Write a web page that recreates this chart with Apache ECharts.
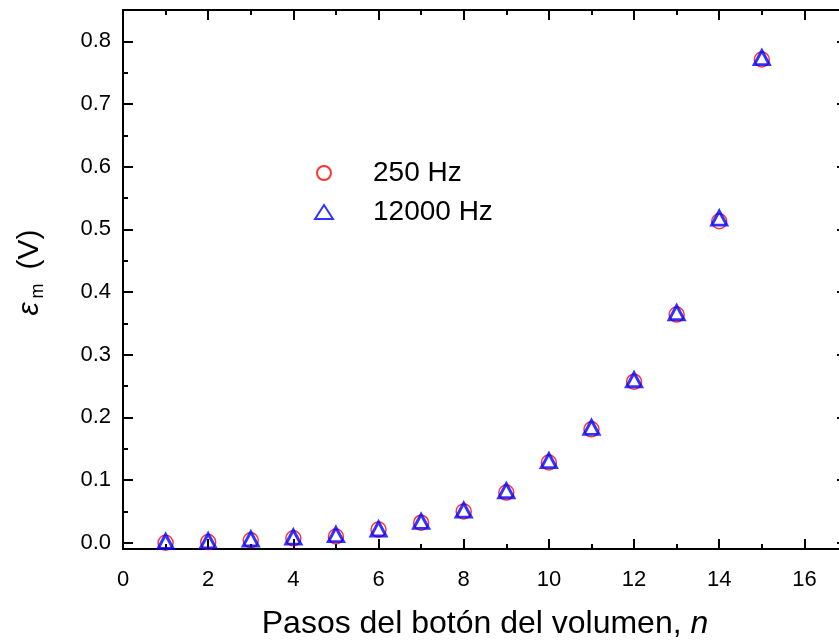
<!DOCTYPE html>
<html>
<head>
<meta charset="utf-8">
<style>
  html, body { margin: 0; padding: 0; background: #fff; }
  #chart { width: 839px; height: 643px; }
</style>
<script src="https://cdn.jsdelivr.net/npm/echarts@6/dist/echarts.min.js"></script>
</head>
<body>
<div id="chart"></div>
<script>
// volume steps n
const steps = [1, 2, 3, 4, 5, 6, 7, 8, 9, 10, 11, 12, 13, 14, 15]
// emf in volts
const emf250 = [0.000, 0.001, 0.004, 0.007, 0.010, 0.021, 0.032, 0.050, 0.080, 0.128, 0.181, 0.257, 0.364, 0.513, 0.771]
const emf12000 = [0.002, 0.003, 0.006, 0.009, 0.013, 0.022, 0.034, 0.052, 0.083, 0.131, 0.184, 0.260, 0.367, 0.518, 0.774]
const seriesNames = ['250 Hz', '12000 Hz']

const font = 'Liberation Sans, Arial, sans-serif'

function pairs(ys) {
  return steps.map((x, i) => [x, ys[i]])
}

// x axis layer: position, tick step, tick length, show line/labels
function xLayer(position, step, len, showLine, showLabel) {
  return {
    type: 'value',
    position: position,
    min: 0,
    max: 17,
    interval: step,
    splitLine: { show: false },
    axisLine: { show: showLine, onZero: false, lineStyle: { color: '#000', width: 2 } },
    axisTick: { show: true, inside: true, length: len, lineStyle: { color: '#000', width: 2 } },
    axisLabel: {
      show: showLabel,
      margin: 20,
      color: '#000',
      fontSize: 22,
      fontFamily: font,
      formatter: v => (v % 2 === 0 && v <= 16 ? String(v) : '')
    }
  }
}

// y axis layer, ticks kept on multiples of step (no interval -> counted from 0)
function yLayer(position, step, len, showLine, showLabel) {
  return {
    type: 'value',
    position: position,
    min: -0.01,
    max: 0.85,
    splitNumber: 8,
    minInterval: step,
    maxInterval: step,
    splitLine: { show: false },
    axisLine: { show: showLine, onZero: false, lineStyle: { color: '#000', width: 2 } },
    axisTick: { show: true, inside: true, length: len, lineStyle: { color: '#000', width: 2 } },
    axisLabel: {
      show: showLabel,
      margin: 12,
      color: '#000',
      fontSize: 22,
      fontFamily: font,
      formatter: v => {
        const r = Math.round(v * 10) / 10
        if (Math.abs(v - r) > 1e-6 || r < 0 || r > 0.8) return ''
        return r.toFixed(1)
      }
    }
  }
}

const chart = echarts.init(document.getElementById('chart'), null, { renderer: 'canvas' })

const xMain = xLayer('bottom', 1, 5, true, false)
xMain.name = 'Pasos del botón del volumen, {i|n}'
xMain.nameLocation = 'middle'
xMain.nameGap = 59
xMain.nameTextStyle = {
  color: '#000',
  fontSize: 32,
  fontFamily: font,
  rich: { i: { fontSize: 32, fontStyle: 'italic', fontFamily: font, color: '#000' } }
}

const yMain = yLayer('left', 0.1, 10, true, true)
yMain.name = '{e|ε}{s|m}{t|(V)}'
yMain.nameLocation = 'middle'
yMain.nameRotate = 90
yMain.nameGap = 76
yMain.nameTextStyle = {
  color: '#000',
  fontFamily: font,
  padding: [0, 0, 0, 14],
  rich: {
    e: { fontSize: 30, fontStyle: 'italic', fontFamily: font, color: '#000', lineHeight: 34, verticalAlign: 'middle' },
    s: { fontSize: 18, fontFamily: font, color: '#000', lineHeight: 34, verticalAlign: 'bottom', padding: [0, 0, 0, 4] },
    t: { fontSize: 30, fontFamily: font, color: '#000', lineHeight: 34, verticalAlign: 'middle', padding: [0, 0, 0, 14] }
  }
}

chart.setOption({
  animation: false,
  backgroundColor: '#fff',
  grid: { left: 123, top: 10, width: 724, height: 539, outerBoundsMode: 'none' },
  legend: {
    orient: 'vertical',
    left: 309,
    top: 153,
    itemWidth: 18,
    itemHeight: 14,
    itemGap: 9,
    textStyle: { color: '#000', fontSize: 28, fontFamily: font, lineHeight: 30, padding: [0, 0, 0, 35] },
    data: seriesNames
  },
  xAxis: [
    xMain,
    xLayer('bottom', 2, 10, false, true),
    xLayer('top', 1, 5, true, false),
    xLayer('top', 2, 10, false, false)
  ],
  yAxis: [
    yMain,
    yLayer('left', 0.05, 5, false, false),
    yLayer('right', 0.1, 10, true, false),
    yLayer('right', 0.05, 5, false, false)
  ],
  series: [
    {
      name: seriesNames[0],
      type: 'scatter',
      xAxisIndex: 0,
      yAxisIndex: 0,
      symbol: 'circle',
      symbolSize: 15,
      itemStyle: { color: 'transparent', borderColor: '#ff0000', borderWidth: 1.5 },
      data: pairs(emf250)
    },
    {
      name: seriesNames[1],
      type: 'scatter',
      xAxisIndex: 0,
      yAxisIndex: 0,
      symbol: 'triangle',
      symbolSize: [15, 14],
      itemStyle: { color: 'transparent', borderColor: '#0000ff', borderWidth: 3 },
      data: pairs(emf12000)
    }
  ]
})
</script>
</body>
</html>
